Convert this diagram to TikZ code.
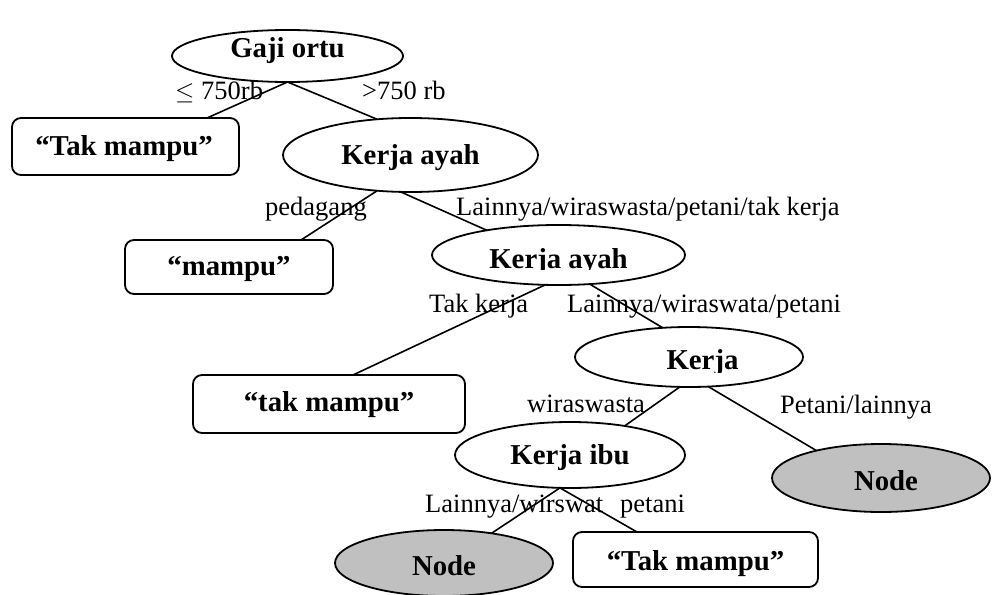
\documentclass[tikz,border=0pt]{standalone}
\usepackage{fontspec}
\setmainfont{Liberation Serif}
\usetikzlibrary{shapes.geometric}
\definecolor{leafgray}{RGB}{192,192,192}
\tikzset{
  split/.style={ellipse, draw, line width=1.8pt, inner sep=0pt, outer sep=0pt},
  leaf/.style={split, fill=leafgray},
  result/.style={rectangle, rounded corners=9pt, draw, line width=1.8pt, inner sep=0pt, outer sep=0pt},
  title/.style={font=\fontsize{28.8}{32}\selectfont\bfseries, inner sep=0pt, anchor=base},
  cond/.style={font=\fontsize{26.5}{30}\selectfont, inner sep=0pt, anchor=base west},
  branch/.style={line width=1.6pt},
}
\begin{document}
\begin{tikzpicture}[x=1pt,y=-1pt]
\useasboundingbox (0,0) rectangle (992,594);

% decision and leaf shapes
\node[split, minimum width=231pt, minimum height=52pt] (go) at (287.5,56) {};
\node[result, minimum width=227pt, minimum height=57pt] (tm1) at (125.5,146.5) {};
\node[split, minimum width=255pt, minimum height=74pt] (ka1) at (410.5,155) {};
\node[result, minimum width=208pt, minimum height=54pt] (mp) at (229,267) {};
\node[split, minimum width=253pt, minimum height=60pt] (ka2) at (558.5,255) {};
\node[result, minimum width=272pt, minimum height=58pt] (tm2) at (329,404) {};
\node[split, minimum width=228pt, minimum height=60pt] (kj) at (689,357) {};
\node[split, minimum width=230pt, minimum height=66pt] (ib) at (570,455) {};
\node[leaf, minimum width=218pt, minimum height=66pt] (nd1) at (444,563) {};
\node[result, minimum width=245pt, minimum height=55pt] (tm3) at (695.5,559.5) {};
\node[leaf, minimum width=218pt, minimum height=68pt] (nd2) at (881,478) {};

% node titles
\node[title] (go-t) at ([yshift=-1.5pt]go.center) {Gaji ortu};
\node[title] (tm1-t) at ([xshift=-1.5pt,yshift=-8.5pt]tm1.center) {“Tak mampu”};
\node[title] (ka1-t) at ([yshift=-9.5pt]ka1.center) {Kerja ayah};
\node[title] (mp-t) at ([yshift=-8pt]mp.center) {“mampu”};
\begin{scope}
  \clip ([xshift=-120pt,yshift=25pt]ka2.center) rectangle ([xshift=120pt,yshift=-14pt]ka2.center);
  \node[title] (ka2-t) at ([yshift=-13pt]ka2.center) {Kerja ayah};
\end{scope}
\node[title] (tm2-t) at ([yshift=-7.7pt]tm2.center) {“tak mampu”};
\begin{scope}
  \clip ([xshift=-100pt,yshift=25pt]kj.center) rectangle ([xshift=110pt,yshift=-15pt]kj.center);
  \node[title] (kj-t) at ([xshift=13.5pt,yshift=-12.5pt]kj.center) {Kerja};
\end{scope}
\node[title] (ib-t) at ([yshift=-9.5pt]ib.center) {Kerja ibu};
\node[title] (nd1-t) at ([yshift=-12pt]nd1.center) {Node};
\node[title] (tm3-t) at ([yshift=-10.5pt]tm3.center) {“Tak mampu”};
\node[title] (nd2-t) at ([xshift=5pt,yshift=-12pt]nd2.center) {Node};

% branches
\draw[branch] (go.south) -- ([xshift=81.5pt]tm1.north);
\draw[branch] (go.south) -- (ka1.133);
\draw[branch] (ka1.227) -- ([xshift=72pt]mp.north);
\draw[branch] (ka1.255) -- (ka2.161);
\draw[branch] (ka2.246) -- ([xshift=24pt]tm2.north);
\draw[branch] (ka2.317) -- (kj.132);
\draw[branch] (kj.253) -- (ib.28);
\draw[branch] (kj.303) -- (nd2.157);
\draw[branch] (ib.253) -- (nd1.32);
\draw[branch] (ib.253) -- ([xshift=-58.5pt]tm3.north);

% branch conditions
\node[cond] (c1) at (175,99.5) {$\leq$ 750rb};
\node[cond] (c2) at (362,99.5) {>750 rb};
\node[cond] (c3) at (265,215) {pedagang};
\node[cond] (c4) at (456,215) {Lainnya/wiraswasta/petani/tak kerja};
\node[cond] (c5) at (429,312) {Tak kerja};
\node[cond] (c6) at (567,312) {Lainnya/wiraswata/petani};
\node[cond] (c7) at (527,412) {wiraswasta};
\node[cond] (c8) at (780,413) {Petani/lainnya};
\node[cond] (c9) at (425,512) {Lainnya/wirswat};
\node[cond] (c10) at (620,512) {petani};
\end{tikzpicture}
\end{document}
